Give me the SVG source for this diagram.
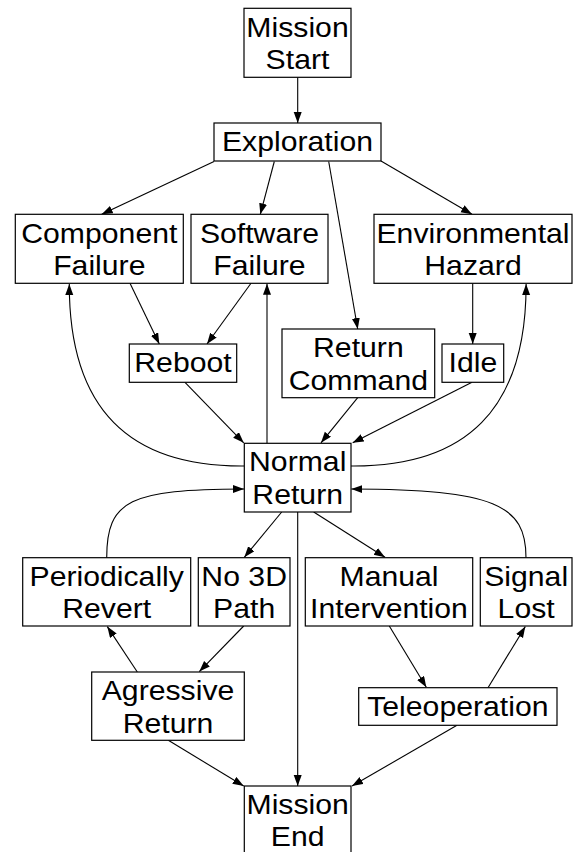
<svg xmlns="http://www.w3.org/2000/svg" width="573" height="852" viewBox="0 0 573 852">
<style>
  .box { fill: #ffffff; stroke: #000000; stroke-width: 1.2; }
  .t { font-family: "Liberation Sans", Arial, Helvetica, sans-serif; font-size: 28.5px; text-anchor: middle; fill: #000000; }
  .e { fill: none; stroke: #000000; stroke-width: 1.1; marker-end: url(#ah); }
</style>
<defs>
  <marker id="ah" markerUnits="userSpaceOnUse" markerWidth="12" markerHeight="9" refX="11" refY="4" orient="auto">
    <path d="M0,0 L11,4 L0,8 z" fill="#000000"/>
  </marker>
</defs>
<rect x="0" y="0" width="573" height="852" fill="#ffffff"/>

<g id="edges">
  <path class="e" d="M297.7,77.3 L297.7,123"/>
  <path class="e" d="M214,161.5 L101.7,214.3"/>
  <path class="e" d="M274.3,161.5 L260.3,214.3"/>
  <path class="e" d="M328.7,161.5 L357.7,329"/>
  <path class="e" d="M381,161 L472,214.3"/>
  <path class="e" d="M130,283.3 L159.3,344"/>
  <path class="e" d="M251,283.3 L207,344"/>
  <path class="e" d="M472.7,283.3 L472.7,344"/>
  <path class="e" d="M185,382.3 L243.7,442.8"/>
  <path class="e" d="M357.7,397.7 L321,442.8"/>
  <path class="e" d="M472,382.3 L352.7,442.8"/>
  <path class="e" d="M267,443.3 L267,283.8"/>
  <path class="e" d="M244.3,466 C130,467 69,410 69.3,284"/>
  <path class="e" d="M351,466 C465.4,467 526.4,410 526.1,284"/>
  <path class="e" d="M106.7,557.7 C106.7,500 130,489.3 244,489"/>
  <path class="e" d="M526,557.7 C526,505 495,489.3 351.3,489"/>
  <path class="e" d="M281.7,512 L244.3,557.3"/>
  <path class="e" d="M297.7,512 L297.7,786"/>
  <path class="e" d="M313.7,512 L385,557.3"/>
  <path class="e" d="M137.3,672 L107.3,626.6"/>
  <path class="e" d="M243.7,626 L199.3,671.6"/>
  <path class="e" d="M389.3,626 L426.3,687.3"/>
  <path class="e" d="M488,687.7 L525.3,626.6"/>
  <path class="e" d="M168.3,740.3 L243.7,786"/>
  <path class="e" d="M457,725.3 L352,786"/>
</g>

<g id="mission-start">
  <rect class="box" x="244" y="8.3" width="107" height="69"/>
  <text class="t" transform="matrix(1.06 0 0 1 297.5 0)"><tspan x="0" y="36.7">Mission</tspan><tspan x="0" y="69.5">Start</tspan></text>
</g>
<g id="exploration">
  <rect class="box" x="214" y="123" width="167" height="38"/>
  <text class="t" transform="matrix(1.06 0 0 1 297.5 0)"><tspan x="0" y="151.5">Exploration</tspan></text>
</g>
<g id="component-failure">
  <rect class="box" x="15.3" y="214.3" width="168" height="69"/>
  <text class="t" transform="matrix(1.06 0 0 1 99.3 0)"><tspan x="0" y="242.7">Component</tspan><tspan x="0" y="275.3">Failure</tspan></text>
</g>
<g id="software-failure">
  <rect class="box" x="191" y="214.3" width="137" height="69"/>
  <text class="t" transform="matrix(1.06 0 0 1 259.5 0)"><tspan x="0" y="242.7">Software</tspan><tspan x="0" y="275.3">Failure</tspan></text>
</g>
<g id="environmental-hazard">
  <rect class="box" x="374" y="214.3" width="198" height="69"/>
  <text class="t" transform="matrix(1.06 0 0 1 473 0)"><tspan x="0" y="242.7">Environmental</tspan><tspan x="0" y="275.3">Hazard</tspan></text>
</g>
<g id="reboot">
  <rect class="box" x="129.3" y="344" width="107.4" height="38.3"/>
  <text class="t" transform="matrix(1.06 0 0 1 183 0)"><tspan x="0" y="371.8">Reboot</tspan></text>
</g>
<g id="return-command">
  <rect class="box" x="282" y="329" width="152.7" height="68.7"/>
  <text class="t" transform="matrix(1.06 0 0 1 358.35 0)"><tspan x="0" y="357.3">Return</tspan><tspan x="0" y="390">Command</tspan></text>
</g>
<g id="idle">
  <rect class="box" x="442" y="344" width="61.7" height="38.3"/>
  <text class="t" transform="matrix(1.06 0 0 1 472.85 0)"><tspan x="0" y="371.8">Idle</tspan></text>
</g>
<g id="normal-return">
  <rect class="box" x="244.3" y="443.3" width="106.7" height="68.7"/>
  <text class="t" transform="matrix(1.06 0 0 1 297.7 0)"><tspan x="0" y="471.5">Normal</tspan><tspan x="0" y="504">Return</tspan></text>
</g>
<g id="periodically-revert">
  <rect class="box" x="22.7" y="557.7" width="168" height="68.3"/>
  <text class="t" transform="matrix(1.06 0 0 1 106.7 0)"><tspan x="0" y="585.8">Periodically</tspan><tspan x="0" y="618.3">Revert</tspan></text>
</g>
<g id="no-3d-path">
  <rect class="box" x="198.3" y="557.7" width="91.7" height="68.3"/>
  <text class="t" transform="matrix(1.06 0 0 1 244.15 0)"><tspan x="0" y="585.8">No 3D</tspan><tspan x="0" y="618.3">Path</tspan></text>
</g>
<g id="manual-intervention">
  <rect class="box" x="305.3" y="557.7" width="167.4" height="68.3"/>
  <text class="t" transform="matrix(1.06 0 0 1 389 0)"><tspan x="0" y="585.8">Manual</tspan><tspan x="0" y="618.3">Intervention</tspan></text>
</g>
<g id="signal-lost">
  <rect class="box" x="480.3" y="557.7" width="91.7" height="68.3"/>
  <text class="t" transform="matrix(1.06 0 0 1 526.15 0)"><tspan x="0" y="585.8">Signal</tspan><tspan x="0" y="618.3">Lost</tspan></text>
</g>
<g id="agressive-return">
  <rect class="box" x="91.7" y="672" width="152.6" height="68.3"/>
  <text class="t" transform="matrix(1.06 0 0 1 168 0)"><tspan x="0" y="700.2">Agressive</tspan><tspan x="0" y="732.8">Return</tspan></text>
</g>
<g id="teleoperation">
  <rect class="box" x="358.7" y="687.7" width="198.3" height="37.6"/>
  <text class="t" transform="matrix(1.06 0 0 1 457.85 0)"><tspan x="0" y="716.2">Teleoperation</tspan></text>
</g>
<g id="mission-end">
  <rect class="box" x="244.3" y="786" width="106.7" height="69"/>
  <text class="t" transform="matrix(1.06 0 0 1 297.7 0)"><tspan x="0" y="814.3">Mission</tspan><tspan x="0" y="846.5">End</tspan></text>
</g>
</svg>
